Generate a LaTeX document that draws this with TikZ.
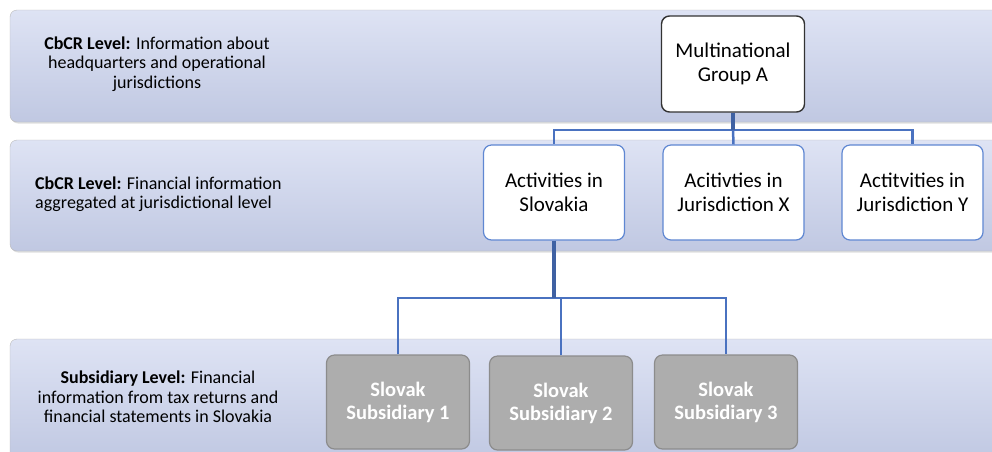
\documentclass[tikz,border=0pt]{standalone}
\usepackage{fontspec}
\setmainfont{Carlito}
\usepackage{tikz}
\usetikzlibrary{positioning, shadows}
\definecolor{bandtop}{RGB}{222, 227, 244}
\definecolor{bandbot}{RGB}{192, 200, 226}
\definecolor{linkblue}{RGB}{74, 114, 192}
\definecolor{boxblue}{RGB}{95, 135, 210}
\definecolor{subgray}{RGB}{173, 173, 173}

\begin{document}
\begin{tikzpicture}[
      x=1pt, y=-1pt,
      every node/.style={font=\fontsize{21}{24}\selectfont},
      band/.style={draw=gray!55, rounded corners=7pt, top color=bandtop,
                   bottom color=bandbot, minimum width=990pt,
                   drop shadow={shadow xshift=1pt, shadow yshift=-1.5pt, opacity=0.25}},
      lbl/.style={font=\fontsize{18}{19.5}\selectfont, inner sep=0pt},
      top/.style={draw=black!80, line width=1.4pt, fill=white, rounded corners=8pt,
                  minimum width=143pt, minimum height=96pt, align=center},
      act/.style={draw=boxblue, line width=1.2pt, fill=white, rounded corners=8pt,
                  minimum width=141pt, minimum height=95pt, align=center},
      sub/.style={draw=gray!90, line width=1.2pt, fill=subgray, rounded corners=8pt,
                  minimum width=143pt, minimum height=94pt, align=center,
                  text=white, font=\fontsize{20.5}{23}\selectfont\bfseries},
      conn/.style={draw=linkblue, line width=2.5pt},
      trunk/.style={draw=linkblue!85!black, line width=4.5pt}
    ]
      \useasboundingbox (0,0) rectangle (992,451);
      \clip (0,0) rectangle (992,451);

      % level bands
      \node[band, minimum height=112pt] (band1) at (505,66)  {};
      \node[band, minimum height=111pt] (band2) at (505,195.5) {};
      \node[band, minimum height=122pt] (band3) at (505,400) {};

      % level captions
      \node[lbl, align=center] (lbl1) at (157,64)
        {\textbf{CbCR Level:} Information about\\ headquarters and operational\\ jurisdictions};
      \node[lbl, align=left, anchor=west] (lbl2) at (35,194)
        {\textbf{CbCR Level:} Financial information\\ aggregated at jurisdictional level};
      \node[lbl, align=center] (lbl3) at (158,397)
        {\textbf{Subsidiary Level:} Financial\\ information from tax returns and\\ financial statements in Slovakia};

      % group and jurisdictions
      \node[top] (grp) at (733,64) {Multinational\\ Group A};
      \node[act] (actsk) at (554,192.5)   {Activities in\\ Slovakia};
      \node[act] (actx)  at (733.5,192.5) {Acitivties in\\ Jurisdiction X};
      \node[act] (acty)  at (912.5,192.5) {Actitvities in\\ Jurisdiction Y};

      % subsidiaries
      \node[sub] (sub1) at (398,402) {Slovak\\ Subsidiary 1};
      \node[sub] (sub2) at (561,403) {Slovak\\ Subsidiary 2};
      \node[sub] (sub3) at (726,402) {Slovak\\ Subsidiary 3};

      % links
      \coordinate (bus1) at (733,130);
      \coordinate (bus2) at (554,298);
      \draw[conn] (actsk.north) |- (bus1) -| (acty.north);
      \draw[conn] (actx.north) -- (bus1);
      \draw[trunk] (grp.south) -- (bus1);
      \draw[conn] (sub1.north) |- (bus2) -| (sub3.north);
      \draw[conn] (sub2.north) |- (bus2);
      \draw[trunk] (actsk.south) -- (bus2);
    \end{tikzpicture}
\end{document}
